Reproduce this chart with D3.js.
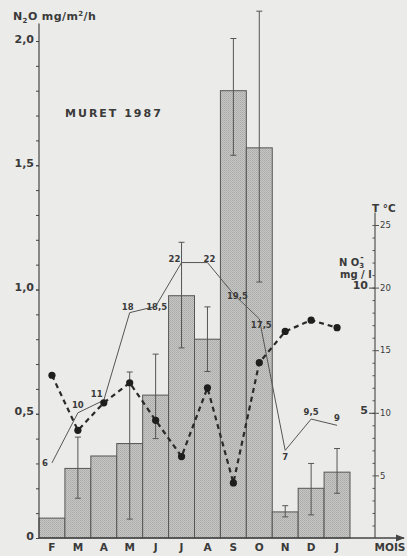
<!DOCTYPE html>
<html>
<head>
<meta charset="utf-8">
<script src="https://cdn.jsdelivr.net/npm/d3@7"></script>
<style>
  html, body { margin: 0; padding: 0; background: #ebebe9; }
  svg { display: block; }
  text { font-family: "DejaVu Sans", "Liberation Sans", sans-serif; fill: #3a3a3a; }
</style>
</head>
<body>
<svg id="chart" width="407" height="556"></svg>
<script>
// ---- data ----
const months   = ["F","M","A","M","J","J","A","S","O","N","D","J"];
const n2o      = [0.08, 0.28, 0.33, 0.38, 0.575, 0.975, 0.80, 1.80, 1.57, 0.105, 0.20, 0.265];
const errLow   = [null, 0.16, null, 0.076, 0.40, 0.765, 0.67, 1.54, 1.03, 0.085, 0.093, 0.18];
const errHigh  = [null, 0.406, null, 0.668, 0.74, 1.19, 0.93, 2.01, 2.12, 0.13, 0.30, 0.36];
const temp     = [6, 10, 11, 18, 18.5, 22, 22, 19.5, 17.5, 7, 9.5, 9];
const tempLbl  = ["6","10","11","18","18,5","22","22","19,5","17,5","7","9,5","9"];
const nitrate  = [6.5, 4.3, 5.4, 6.2, 4.7, 3.25, 6.0, 2.2, 7.0, 8.25, 8.7, 8.4];
const n2oTicks = [0, 0.5, 1.0, 1.5, 2.0];
const tTicks   = [5, 10, 15, 20, 25];
const no3Ticks = [5, 10];

// ---- layout ----
const left = 39, right = 350, base = 538, topY = 41;
const axisRX = 375;

const svg = d3.select("#chart");

// pattern for stippled bars
const defs = svg.append("defs");
const pat = defs.append("pattern").attr("id","stip").attr("width",2).attr("height",2)
  .attr("patternUnits","userSpaceOnUse");
pat.append("rect").attr("width",2).attr("height",2).attr("fill","#c6c6c4");
pat.append("rect").attr("width",1).attr("height",1).attr("fill","#aaaaa8");
pat.append("rect").attr("x",1).attr("y",1).attr("width",1).attr("height",1).attr("fill","#b2b2b0");
defs.append("marker").attr("id","arrow").attr("viewBox","0 0 10 10").attr("refX",9).attr("refY",5)
  .attr("markerWidth",7).attr("markerHeight",7).attr("orient","auto")
  .append("path").attr("d","M0,1 L10,5 L0,9 Z").attr("fill","#444");

const x = d3.scaleBand().domain(d3.range(months.length)).range([left, right]).padding(0);
const y = d3.scaleLinear().domain([0, 2]).range([base, topY]);
const yT = d3.scaleLinear().domain([0, 25]).range([base, 225]);
const yN = d3.scaleLinear().domain([0, 12.5]).range([base, 225]);
const cx = i => x(i) + x.bandwidth() / 2;

// bars
svg.append("g").selectAll("rect").data(n2o).join("rect")
  .attr("x", (d,i) => x(i)).attr("y", d => y(d))
  .attr("width", x.bandwidth()).attr("height", d => base - y(d))
  .attr("fill", "url(#stip)").attr("stroke", "#555").attr("stroke-width", 1);

// error bars
const eb = svg.append("g").attr("stroke","#555").attr("stroke-width",1);
months.forEach((m,i) => {
  if (errLow[i] == null) return;
  eb.append("line").attr("x1",cx(i)).attr("x2",cx(i)).attr("y1",y(errHigh[i])).attr("y2",y(errLow[i]));
  [errHigh[i], errLow[i]].forEach(v => eb.append("line")
    .attr("x1",cx(i)-3).attr("x2",cx(i)+3).attr("y1",y(v)).attr("y2",y(v)));
});

// temperature line
const tLine = d3.line().x((d,i) => cx(i)).y(d => yT(d));
svg.append("path").datum(temp).attr("d", tLine)
  .attr("fill","none").attr("stroke","#555").attr("stroke-width",1);

// temperature labels
const lblOff = [[-4,3,"end"],[0,-5,"middle"],[-7,-3,"middle"],[-2,-3,"middle"],[1,4,"middle"],
  [-7,-1,"middle"],[2,-1,"middle"],[4,5,"middle"],[2,9,"middle"],[0,10,"middle"],[0,-4,"middle"],[0,-4,"middle"]];
svg.append("g").selectAll("text").data(temp).join("text")
  .attr("x",(d,i) => cx(i) + lblOff[i][0]).attr("y",(d,i) => yT(d) + lblOff[i][1])
  .attr("text-anchor",(d,i) => lblOff[i][2])
  .attr("font-size",8.5).attr("font-weight","bold").attr("fill","#505050")
  .text((d,i) => tempLbl[i]);

// nitrate dashed line
const nLine = d3.line().x((d,i) => cx(i)).y(d => yN(d));
svg.append("path").datum(nitrate).attr("d", nLine)
  .attr("fill","none").attr("stroke","#2a2a2a").attr("stroke-width",2.2).attr("stroke-dasharray","5,4");
svg.append("g").selectAll("circle").data(nitrate).join("circle")
  .attr("cx",(d,i) => cx(i)).attr("cy", d => yN(d)).attr("r",3.6).attr("fill","#1e1e1e");

// left axis
svg.append("line").attr("x1",left).attr("x2",left).attr("y1",base).attr("y2",y(2.07))
  .attr("stroke","#444").attr("stroke-width",1.2);
const fmt = d => d === 0 ? "0" : d3.format(".1f")(d).replace(".", ",");
const gL = svg.append("g").attr("transform",`translate(${left},0)`)
  .call(d3.axisLeft(y).tickValues(n2oTicks).tickSize(3).tickPadding(2).tickFormat(fmt));
gL.select(".domain").remove();
gL.selectAll("text").attr("font-size",11).attr("font-weight","bold").attr("fill","#404040").attr("dy","0.1em");
gL.selectAll("line").attr("stroke","#444");
const gLm = svg.append("g").attr("transform",`translate(${left},0)`)
  .call(d3.axisLeft(y).tickValues(d3.range(0, 2.01, 0.1)).tickSize(3).tickFormat(""));
gLm.select(".domain").remove();
gLm.selectAll("line").attr("stroke","#444");

// baseline with arrow
svg.append("line").attr("x1",left).attr("x2",404).attr("y1",base).attr("y2",base)
  .attr("stroke","#444").attr("stroke-width",1.3).attr("marker-end","url(#arrow)");

// month labels
const gB = svg.append("g").attr("transform",`translate(0,${base})`)
  .call(d3.axisBottom(x).tickSize(0).tickPadding(6).tickFormat(i => months[i]));
gB.select(".domain").remove();
gB.selectAll("text").attr("font-size",10.5).attr("font-weight","bold").attr("fill","#404040");

svg.append("text").attr("x",390).attr("y",551).attr("text-anchor","middle")
  .attr("font-size",10.5).attr("font-weight","bold").attr("fill","#404040").text("MOIS");

// right axis (T °C and NO3)
svg.append("line").attr("x1",axisRX).attr("x2",axisRX).attr("y1",base).attr("y2",yT(26))
  .attr("stroke","#444").attr("stroke-width",1.1);
const gR = svg.append("g").attr("transform",`translate(${axisRX},0)`)
  .call(d3.axisRight(yT).tickValues(tTicks).tickSize(4).tickPadding(1));
gR.select(".domain").remove();
gR.selectAll("text").attr("font-size",8.5).attr("fill","#505050");
gR.selectAll("line").attr("stroke","#555");
const gRm = svg.append("g").attr("transform",`translate(${axisRX},0)`)
  .call(d3.axisLeft(yT).tickValues(d3.range(1, 26, 1)).tickSize(2.5).tickFormat(""));
gRm.select(".domain").remove();
gRm.selectAll("line").attr("stroke","#555");
const gN = svg.append("g").attr("transform",`translate(${axisRX},0)`)
  .call(d3.axisLeft(yN).tickValues(no3Ticks).tickSize(6).tickPadding(1));
gN.select(".domain").remove();
gN.selectAll("text").attr("font-size",11).attr("font-weight","bold").attr("fill","#404040").attr("dy","0.1em");
gN.selectAll("line").attr("stroke","#444");

// axis titles
svg.append("text").attr("x",372).attr("y",212).attr("font-size",10.5).attr("font-weight","bold")
  .attr("fill","#404040").text("T °C");
const no3 = svg.append("text").attr("x",339).attr("y",266).attr("font-size",10).attr("font-weight","bold").attr("fill","#454545");
no3.append("tspan").text("N O");
no3.append("tspan").attr("font-size",7).attr("dy",2).text("3");
no3.append("tspan").attr("font-size",8).attr("dx",-4).attr("dy",-8).text("-");
svg.append("text").attr("x",340).attr("y",278).attr("font-size",10).attr("font-weight","bold").attr("fill","#454545").text("mg / l");

const n2oT = svg.append("text").attr("x",13).attr("y",20).attr("font-size",11).attr("font-weight","bold")
  .attr("letter-spacing","0.4px").attr("fill","#404040");
n2oT.append("tspan").text("N");
n2oT.append("tspan").attr("font-size",7).attr("dy",3).text("2");
n2oT.append("tspan").attr("dy",-3).text("O mg/m");
n2oT.append("tspan").attr("font-size",7).attr("dy",-4).text("2");
n2oT.append("tspan").attr("dy",4).text("/h");

svg.append("text").attr("x",65).attr("y",117).attr("font-size",11).attr("font-weight","bold")
  .attr("letter-spacing","2px").attr("fill","#404040").text("MURET  1987");
</script>
</body>
</html>
